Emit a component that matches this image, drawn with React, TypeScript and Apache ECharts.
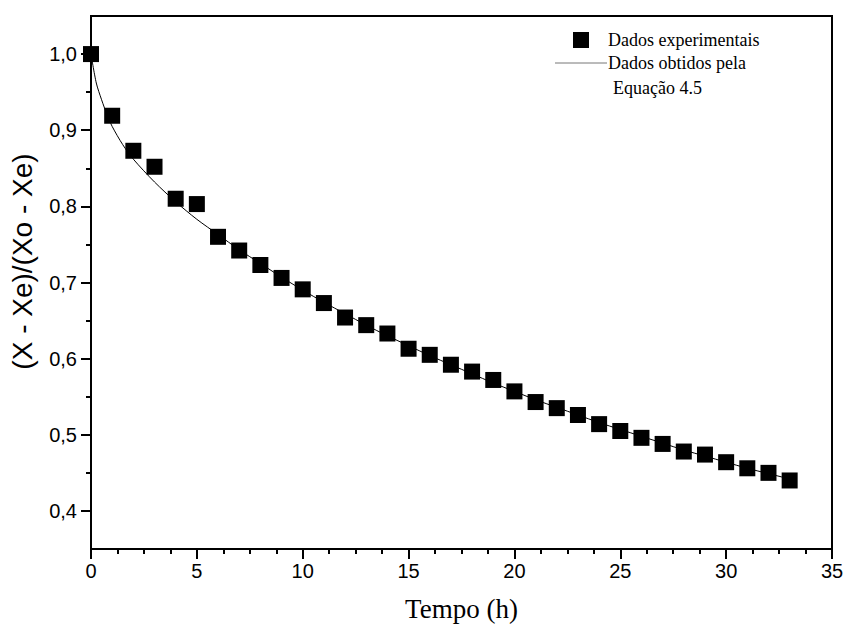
import React, { useEffect, useRef } from "react";
import * as echarts from "echarts";

// Experimental data (time in h, normalised moisture ratio)
const expTime = [0, 1, 2, 3, 4, 5, 6, 7, 8, 9, 10, 11, 12, 13, 14, 15, 16, 17, 18, 19, 20, 21, 22, 23, 24, 25, 26, 27, 28, 29, 30, 31, 32, 33];
const expValue = [1.0, 0.919, 0.873, 0.852, 0.81, 0.803, 0.76, 0.742, 0.723, 0.706, 0.691, 0.673, 0.654, 0.644, 0.633, 0.613, 0.605, 0.592, 0.583, 0.572, 0.557, 0.543, 0.535, 0.526, 0.514, 0.505, 0.496, 0.488, 0.478, 0.474, 0.464, 0.456, 0.45, 0.44];

// Curve from Equação 4.5
const modelTime = [0, 0.25, 0.5, 0.75, 1, 1.5, 2, 3, 4, 5, 6, 7, 8, 9, 10, 11, 12, 13, 14, 15, 16, 17, 18, 19, 20, 21, 22, 23, 24, 25, 26, 27, 28, 29, 30, 31, 32, 33];
const modelValue = [1.0, 0.962, 0.94, 0.921, 0.905, 0.881, 0.862, 0.832, 0.806, 0.783, 0.763, 0.743, 0.725, 0.707, 0.69, 0.674, 0.659, 0.644, 0.63, 0.617, 0.604, 0.592, 0.58, 0.568, 0.557, 0.546, 0.536, 0.526, 0.516, 0.507, 0.498, 0.489, 0.48, 0.472, 0.464, 0.456, 0.449, 0.442];

const yMajorTicks = [0.4, 0.5, 0.6, 0.7, 0.8, 0.9, 1.0];
const yMinorTicks = [0.45, 0.55, 0.65, 0.75, 0.85, 0.95];

const legendExp = "Dados experimentais";
const legendModel1 = "Dados obtidos pela";
const legendModel2 = "Equação 4.5";

const SANS = "'Liberation Sans', Arial, sans-serif";
const SERIF = "'Liberation Serif', 'Times New Roman', serif";

export default function App() {
  const ref = useRef<HTMLDivElement>(null);

  useEffect(() => {
    if (!ref.current) return;
    const chart = echarts.init(ref.current, undefined, { renderer: "svg" });
    const fmt = (v: number) => v.toFixed(1).replace(".", ",");
    chart.setOption({
      animation: false,
      backgroundColor: "#ffffff",
      grid: {
        left: 91,
        right: 16,
        top: 16,
        bottom: 83,
        show: true,
        borderColor: "#000",
        borderWidth: 2,
        backgroundColor: "transparent",
      },
      xAxis: {
        type: "value",
        min: 0,
        max: 35,
        interval: 5,
        name: "Tempo (h)",
        nameLocation: "middle",
        nameGap: 46,
        nameTextStyle: { fontFamily: SERIF, fontSize: 27, color: "#000" },
        axisLine: { lineStyle: { color: "#000", width: 2 } },
        axisTick: { show: true, inside: false, length: 10, lineStyle: { color: "#000", width: 2 } },
        minorTick: { show: true, splitNumber: 4, length: 5, lineStyle: { color: "#000", width: 2 } },
        splitLine: { show: false },
        axisLabel: { fontFamily: SANS, fontSize: 20, color: "#000", margin: 12 },
      },
      yAxis: [
        {
          type: "value",
          min: 0.35,
          max: 1.05,
          position: "left",
          name: "(X - Xe)/(Xo - Xe)",
          nameLocation: "middle",
          nameGap: 55,
          nameTextStyle: { fontFamily: SANS, fontSize: 28, color: "#000", padding: [0, 0, 0, 42] },
          axisLine: { show: true, lineStyle: { color: "#000", width: 2 } },
          axisTick: { show: true, inside: false, length: 10, customValues: yMajorTicks, lineStyle: { color: "#000", width: 2 } },
          axisLabel: { customValues: yMajorTicks, formatter: fmt, fontFamily: SANS, fontSize: 20, color: "#000", margin: 14 },
          splitLine: { show: false },
        },
        {
          type: "value",
          min: 0.35,
          max: 1.05,
          position: "left",
          axisLine: { show: false },
          axisTick: { show: true, inside: false, length: 5, customValues: yMinorTicks, lineStyle: { color: "#000", width: 2 } },
          axisLabel: { show: false },
          splitLine: { show: false },
        },
      ],
      graphic: [
        {
          type: "rect",
          shape: { x: 573, y: 32, width: 16, height: 16 },
          style: { fill: "#000" },
        },
        {
          type: "text",
          x: 608,
          y: 40,
          style: { text: legendExp, fontFamily: SERIF, fontSize: 18, fill: "#000", verticalAlign: "middle" },
        },
        {
          type: "line",
          shape: { x1: 555, y1: 63, x2: 607, y2: 63 },
          style: { stroke: "#777", lineWidth: 1 },
        },
        {
          type: "text",
          x: 608,
          y: 63,
          style: { text: legendModel1, fontFamily: SERIF, fontSize: 18, fill: "#000", verticalAlign: "middle" },
        },
        {
          type: "text",
          x: 613,
          y: 88,
          style: { text: legendModel2, fontFamily: SERIF, fontSize: 18, fill: "#000", verticalAlign: "middle" },
        },
      ],
      series: [
        {
          name: legendModel1 + " " + legendModel2,
          type: "line",
          data: modelTime.map((t, i) => [t, modelValue[i]]),
          showSymbol: false,
          smooth: 0.3,
          lineStyle: { color: "#000", width: 1 },
          z: 2,
        },
        {
          name: legendExp,
          type: "scatter",
          data: expTime.map((t, i) => [t, expValue[i]]),
          symbol: "rect",
          symbolSize: 16,
          itemStyle: { color: "#000", opacity: 1 },
          z: 3,
        },
      ],
    });
    return () => chart.dispose();
  }, []);

  return (
    <div
      ref={ref}
      style={{ position: "fixed", left: 0, top: 0, width: 848, height: 632, background: "#fff" }}
    />
  );
}
